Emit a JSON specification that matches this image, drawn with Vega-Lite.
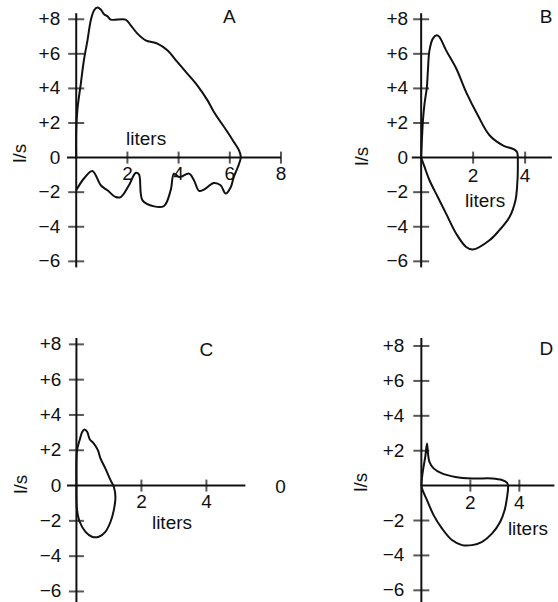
{
"$schema": "https://vega.github.io/schema/vega-lite/v6.json",
"background": "white",
"autosize": {"type": "pad"},
"padding": {"left": 11, "top": 3.2, "right": 0, "bottom": 0},
"config": {"view": {"stroke": null}, "axis": {"disable": true}, "text": {"font": "Liberation Sans", "fontSize": 19, "color": "#111"}},
"datasets": {
"curves": [
{"panel":"A","i":1,"liters":0,"flow":0},{"panel":"A","i":2,"liters":0,"flow":1.58},{"panel":"A","i":3,"liters":0.05,"flow":2.83},{"panel":"A","i":4,"liters":0.18,"flow":4.28},{"panel":"A","i":5,"liters":0.30,"flow":5.63},{"panel":"A","i":6,"liters":0.44,"flow":6.78},{"panel":"A","i":7,"liters":0.57,"flow":7.94},{"panel":"A","i":8,"liters":0.70,"flow":8.52},{"panel":"A","i":9,"liters":0.83,"flow":8.68},{"panel":"A","i":10,"liters":0.96,"flow":8.56},{"panel":"A","i":11,"liters":1.09,"flow":8.29},{"panel":"A","i":12,"liters":1.22,"flow":8.17},{"panel":"A","i":13,"liters":1.35,"flow":7.98},{"panel":"A","i":14,"liters":1.93,"flow":7.98},{"panel":"A","i":15,"liters":2.13,"flow":7.65},{"panel":"A","i":16,"liters":2.39,"flow":7.17},{"panel":"A","i":17,"liters":2.71,"flow":6.78},{"panel":"A","i":18,"liters":3.17,"flow":6.59},{"panel":"A","i":19,"liters":3.56,"flow":6.21},{"panel":"A","i":20,"liters":3.95,"flow":5.53},{"panel":"A","i":21,"liters":4.34,"flow":4.86},{"panel":"A","i":22,"liters":4.73,"flow":4.18},{"panel":"A","i":23,"liters":5.13,"flow":3.31},{"panel":"A","i":24,"liters":5.38,"flow":2.64},{"panel":"A","i":25,"liters":5.91,"flow":1.48},{"panel":"A","i":26,"liters":6.16,"flow":0.90},{"panel":"A","i":27,"liters":6.36,"flow":0.42},{"panel":"A","i":28,"liters":6.43,"flow":0.03},{"panel":"A","i":29,"liters":6.31,"flow":-0.56},{"panel":"A","i":30,"liters":6.15,"flow":-1.14},{"panel":"A","i":31,"liters":6.04,"flow":-1.70},{"panel":"A","i":32,"liters":5.84,"flow":-2.08},{"panel":"A","i":33,"liters":5.64,"flow":-1.60},{"panel":"A","i":34,"liters":5.38,"flow":-1.47},{"panel":"A","i":35,"liters":4.99,"flow":-1.85},{"panel":"A","i":36,"liters":4.80,"flow":-1.93},{"panel":"A","i":37,"liters":4.60,"flow":-1.31},{"panel":"A","i":38,"liters":4.41,"flow":-0.93},{"panel":"A","i":39,"liters":4.02,"flow":-1.12},{"panel":"A","i":40,"liters":3.82,"flow":-0.93},{"panel":"A","i":41,"liters":3.69,"flow":-1.89},{"panel":"A","i":42,"liters":3.43,"flow":-2.80},{"panel":"A","i":43,"liters":3.04,"flow":-2.82},{"panel":"A","i":44,"liters":2.59,"flow":-2.47},{"panel":"A","i":45,"liters":2.45,"flow":-0.97},{"panel":"A","i":46,"liters":2.32,"flow":-0.89},{"panel":"A","i":47,"liters":2.06,"flow":-1.60},{"panel":"A","i":48,"liters":1.74,"flow":-2.28},{"panel":"A","i":49,"liters":1.54,"flow":-2.28},{"panel":"A","i":50,"liters":1.22,"flow":-1.89},{"panel":"A","i":51,"liters":0.96,"flow":-1.60},{"panel":"A","i":52,"liters":0.63,"flow":-0.77},{"panel":"A","i":53,"liters":0.30,"flow":-1.21},{"panel":"A","i":54,"liters":0,"flow":-1.89},
{"panel":"B","i":1,"liters":0,"flow":0},{"panel":"B","i":2,"liters":0.07,"flow":2.16},{"panel":"B","i":3,"liters":0.13,"flow":3.12},{"panel":"B","i":4,"liters":0.22,"flow":4.08},{"panel":"B","i":5,"liters":0.26,"flow":5.05},{"panel":"B","i":6,"liters":0.32,"flow":6.20},{"panel":"B","i":7,"liters":0.45,"flow":6.88},{"panel":"B","i":8,"liters":0.60,"flow":7.07},{"panel":"B","i":9,"liters":0.70,"flow":6.98},{"panel":"B","i":10,"liters":0.96,"flow":6.20},{"panel":"B","i":11,"liters":1.35,"flow":5.15},{"panel":"B","i":12,"liters":1.73,"flow":3.79},{"panel":"B","i":13,"liters":2.18,"flow":2.45},{"panel":"B","i":14,"liters":2.63,"flow":1.29},{"panel":"B","i":15,"liters":3.14,"flow":0.71},{"panel":"B","i":16,"liters":3.59,"flow":0.46},{"panel":"B","i":17,"liters":3.69,"flow":0.32},{"panel":"B","i":18,"liters":3.72,"flow":-0.35},{"panel":"B","i":19,"liters":3.69,"flow":-1.70},{"panel":"B","i":20,"liters":3.63,"flow":-2.47},{"panel":"B","i":21,"liters":3.40,"flow":-3.44},{"panel":"B","i":22,"liters":3.01,"flow":-4.20},{"panel":"B","i":23,"liters":2.63,"flow":-4.78},{"panel":"B","i":24,"liters":1.99,"flow":-5.32},{"panel":"B","i":25,"liters":1.73,"flow":-5.17},{"panel":"B","i":26,"liters":1.35,"flow":-4.40},{"panel":"B","i":27,"liters":0.96,"flow":-3.24},{"panel":"B","i":28,"liters":0.64,"flow":-2.28},{"panel":"B","i":29,"liters":0.32,"flow":-1.31},{"panel":"B","i":30,"liters":0.13,"flow":-0.54},{"panel":"B","i":31,"liters":0,"flow":0},
{"panel":"C","i":1,"liters":0,"flow":0},{"panel":"C","i":2,"liters":0.02,"flow":2.01},{"panel":"C","i":3,"liters":0.10,"flow":2.58},{"panel":"C","i":4,"liters":0.18,"flow":3.05},{"panel":"C","i":5,"liters":0.25,"flow":3.18},{"panel":"C","i":6,"liters":0.33,"flow":3.05},{"panel":"C","i":7,"liters":0.41,"flow":2.62},{"panel":"C","i":8,"liters":0.53,"flow":2.39},{"panel":"C","i":9,"liters":0.66,"flow":2.01},{"panel":"C","i":10,"liters":0.74,"flow":1.54},{"panel":"C","i":11,"liters":0.89,"flow":0.97},{"panel":"C","i":12,"liters":1.05,"flow":0.31},{"panel":"C","i":13,"liters":1.15,"flow":-0.07},{"panel":"C","i":14,"liters":1.20,"flow":-0.63},{"panel":"C","i":15,"liters":1.15,"flow":-1.39},{"panel":"C","i":16,"liters":1.05,"flow":-2.05},{"panel":"C","i":17,"liters":0.89,"flow":-2.62},{"panel":"C","i":18,"liters":0.69,"flow":-2.90},{"panel":"C","i":19,"liters":0.48,"flow":-2.90},{"panel":"C","i":20,"liters":0.28,"flow":-2.62},{"panel":"C","i":21,"liters":0.10,"flow":-2.05},{"panel":"C","i":22,"liters":0.02,"flow":-1.39},{"panel":"C","i":23,"liters":0,"flow":-0.63},{"panel":"C","i":24,"liters":0,"flow":0},
{"panel":"D","i":1,"liters":0,"flow":0},{"panel":"D","i":2,"liters":0.03,"flow":0.50},{"panel":"D","i":3,"liters":0.09,"flow":1.08},{"panel":"D","i":4,"liters":0.16,"flow":1.65},{"panel":"D","i":5,"liters":0.23,"flow":2.42},{"panel":"D","i":6,"liters":0.27,"flow":1.85},{"panel":"D","i":7,"liters":0.33,"flow":1.36},{"panel":"D","i":8,"liters":0.50,"flow":0.99},{"panel":"D","i":9,"liters":0.84,"flow":0.70},{"panel":"D","i":10,"liters":1.39,"flow":0.50},{"panel":"D","i":11,"liters":2.07,"flow":0.41},{"panel":"D","i":12,"liters":2.89,"flow":0.41},{"panel":"D","i":13,"liters":3.29,"flow":0.32},{"panel":"D","i":14,"liters":3.50,"flow":0.16},{"panel":"D","i":15,"liters":3.54,"flow":-0.07},{"panel":"D","i":16,"liters":3.50,"flow":-0.64},{"panel":"D","i":17,"liters":3.40,"flow":-1.40},{"panel":"D","i":18,"liters":3.22,"flow":-2.07},{"panel":"D","i":19,"liters":2.89,"flow":-2.74},{"panel":"D","i":20,"liters":2.48,"flow":-3.22},{"panel":"D","i":21,"liters":2.07,"flow":-3.41},{"panel":"D","i":22,"liters":1.66,"flow":-3.41},{"panel":"D","i":23,"liters":1.25,"flow":-3.12},{"panel":"D","i":24,"liters":0.84,"flow":-2.45},{"panel":"D","i":25,"liters":0.50,"flow":-1.69},{"panel":"D","i":26,"liters":0.23,"flow":-0.83},{"panel":"D","i":27,"liters":0.05,"flow":-0.26},{"panel":"D","i":28,"liters":0,"flow":0}
],
"xlabels": [
{"panel":"A","liters":2,"label":"2"},{"panel":"A","liters":4,"label":"4"},{"panel":"A","liters":6,"label":"6"},{"panel":"A","liters":8,"label":"8"},
{"panel":"B","liters":2,"label":"2"},{"panel":"B","liters":4,"label":"4"},
{"panel":"C","liters":2,"label":"2"},{"panel":"C","liters":4,"label":"4"},
{"panel":"D","liters":2,"label":"2"},{"panel":"D","liters":4,"label":"4"}
],
"ylabels": [
{"panel":"A","flow":8,"label":"+8"},{"panel":"A","flow":6,"label":"+6"},{"panel":"A","flow":4,"label":"+4"},{"panel":"A","flow":2,"label":"+2"},{"panel":"A","flow":0,"label":"0"},{"panel":"A","flow":-2,"label":"−2"},{"panel":"A","flow":-4,"label":"−4"},{"panel":"A","flow":-6,"label":"−6"},
{"panel":"B","flow":8,"label":"+8"},{"panel":"B","flow":6,"label":"+6"},{"panel":"B","flow":4,"label":"+4"},{"panel":"B","flow":2,"label":"+2"},{"panel":"B","flow":0,"label":"0"},{"panel":"B","flow":-2,"label":"−2"},{"panel":"B","flow":-4,"label":"−4"},{"panel":"B","flow":-6,"label":"−6"},
{"panel":"C","flow":8,"label":"+8"},{"panel":"C","flow":6,"label":"+6"},{"panel":"C","flow":4,"label":"+4"},{"panel":"C","flow":2,"label":"+2"},{"panel":"C","flow":0,"label":"0"},{"panel":"C","flow":-2,"label":"−2"},{"panel":"C","flow":-4,"label":"−4"},{"panel":"C","flow":-6,"label":"−6"},
{"panel":"D","flow":8,"label":"+8"},{"panel":"D","flow":6,"label":"+6"},{"panel":"D","flow":4,"label":"+4"},{"panel":"D","flow":2,"label":"+2"},{"panel":"D","flow":-2,"label":"−2"},{"panel":"D","flow":-4,"label":"−4"},{"panel":"D","flow":-6,"label":"−6"}
],
"notes": [
{"panel":"A","kind":"text","liters":2.73,"flow":1.06,"text":"liters"},{"panel":"A","kind":"text","liters":5.98,"flow":8.12,"text":"A"},{"panel":"A","kind":"ytitle","liters":-2.19,"flow":0.25,"text":"l/s"},
{"panel":"B","kind":"text","liters":2.46,"flow":-2.53,"text":"liters"},{"panel":"B","kind":"text","liters":4.81,"flow":8.11,"text":"B"},{"panel":"B","kind":"ytitle","liters":-2.27,"flow":0.08,"text":"l/s"},
{"panel":"C","kind":"text","liters":2.94,"flow":-2.12,"text":"liters"},{"panel":"C","kind":"text","liters":4.0,"flow":7.68,"text":"C"},{"panel":"C","kind":"text","liters":6.28,"flow":-0.08,"text":"0"},{"panel":"C","kind":"ytitle","liters":-1.72,"flow":0.08,"text":"l/s"},
{"panel":"D","kind":"text","liters":4.35,"flow":-2.49,"text":"liters"},{"panel":"D","kind":"text","liters":5.1,"flow":7.82,"text":"D"},{"panel":"D","kind":"ytitle","liters":-2.45,"flow":0.2,"text":"l/s"}
]
},
"columns": 2,
"spacing": {"row": 69.8, "column": 130.8},
"bounds": "flush",
"concat": [
{"width": 214, "height": 254.2, "layer": [
{"data":{"values":[{"axis":"liters"}]},"mark":{"type":"rule","strokeWidth":2,"color":"#111"},"encoding":{"y":{"datum":0,"type":"quantitative","scale":{"domain":[-6.35,8.35],"nice":false,"zero":false}}}},
{"data":{"values":[{"axis":"l/s"}]},"mark":{"type":"rule","strokeWidth":2,"color":"#111"},"encoding":{"x":{"datum":0,"type":"quantitative","scale":{"domain":[-0.36,8.0],"nice":false,"zero":false}}}},
{"data":{"name":"xlabels"},"transform":[{"filter":"datum.panel === 'A'"}],"mark":{"type":"tick","orient":"vertical","size":12,"thickness":2,"color":"#111"},"encoding":{"x":{"field":"liters","type":"quantitative","scale":{"domain":[-0.36,8.0],"nice":false,"zero":false}},"y":{"datum":0,"type":"quantitative","scale":{"domain":[-6.35,8.35],"nice":false,"zero":false}}}},
{"data":{"name":"xlabels"},"transform":[{"filter":"datum.panel === 'A'"}],"mark":{"type":"text","align":"center","baseline":"top","dy":7},"encoding":{"x":{"field":"liters","type":"quantitative","scale":{"domain":[-0.36,8.0],"nice":false,"zero":false}},"y":{"datum":0,"type":"quantitative","scale":{"domain":[-6.35,8.35],"nice":false,"zero":false}},"text":{"field":"label"}}},
{"data":{"name":"ylabels"},"transform":[{"filter":"datum.panel === 'A' && datum.flow !== 0"}],"mark":{"type":"tick","orient":"horizontal","size":16,"thickness":2,"color":"#111"},"encoding":{"x":{"datum":0,"type":"quantitative","scale":{"domain":[-0.36,8.0],"nice":false,"zero":false}},"y":{"field":"flow","type":"quantitative","scale":{"domain":[-6.35,8.35],"nice":false,"zero":false}}}},
{"data":{"name":"ylabels"},"transform":[{"filter":"datum.panel === 'A'"}],"mark":{"type":"text","align":"right","baseline":"middle","dx":-16},"encoding":{"x":{"datum":0,"type":"quantitative","scale":{"domain":[-0.36,8.0],"nice":false,"zero":false}},"y":{"field":"flow","type":"quantitative","scale":{"domain":[-6.35,8.35],"nice":false,"zero":false}},"text":{"field":"label"}}},
{"data":{"name":"notes"},"transform":[{"filter":"datum.panel === 'A' && datum.kind === 'text'"}],"mark":{"type":"text","align":"center","baseline":"middle"},"encoding":{"x":{"field":"liters","type":"quantitative","scale":{"domain":[-0.36,8.0],"nice":false,"zero":false}},"y":{"field":"flow","type":"quantitative","scale":{"domain":[-6.35,8.35],"nice":false,"zero":false}},"text":{"field":"text"}}},
{"data":{"name":"notes"},"transform":[{"filter":"datum.panel === 'A' && datum.kind === 'ytitle'"}],"mark":{"type":"text","align":"center","baseline":"middle","angle":270},"encoding":{"x":{"field":"liters","type":"quantitative","scale":{"domain":[-0.36,8.0],"nice":false,"zero":false}},"y":{"field":"flow","type":"quantitative","scale":{"domain":[-6.35,8.35],"nice":false,"zero":false}},"text":{"field":"text"}}},
{"data":{"name":"curves"},"transform":[{"filter":"datum.panel === 'A'"}],"mark":{"type":"line","interpolate":"catmull-rom","strokeWidth":2,"color":"#111"},"encoding":{"x":{"field":"liters","type":"quantitative","scale":{"domain":[-0.36,8.0],"nice":false,"zero":false}},"y":{"field":"flow","type":"quantitative","scale":{"domain":[-6.35,8.35],"nice":false,"zero":false}},"order":{"field":"i","type":"quantitative"}}}
]},
{"width": 140.1, "height": 254.2, "layer": [
{"data":{"values":[{"axis":"liters"}]},"mark":{"type":"rule","strokeWidth":2,"color":"#111"},"encoding":{"y":{"datum":0,"type":"quantitative","scale":{"domain":[-6.35,8.35],"nice":false,"zero":false}}}},
{"data":{"values":[{"axis":"l/s"}]},"mark":{"type":"rule","strokeWidth":2,"color":"#111"},"encoding":{"x":{"datum":0,"type":"quantitative","scale":{"domain":[-0.36,5.03],"nice":false,"zero":false}}}},
{"data":{"name":"xlabels"},"transform":[{"filter":"datum.panel === 'B'"}],"mark":{"type":"tick","orient":"vertical","size":12,"thickness":2,"color":"#111"},"encoding":{"x":{"field":"liters","type":"quantitative","scale":{"domain":[-0.36,5.03],"nice":false,"zero":false}},"y":{"datum":0,"type":"quantitative","scale":{"domain":[-6.35,8.35],"nice":false,"zero":false}}}},
{"data":{"name":"xlabels"},"transform":[{"filter":"datum.panel === 'B'"}],"mark":{"type":"text","align":"center","baseline":"top","dy":9},"encoding":{"x":{"field":"liters","type":"quantitative","scale":{"domain":[-0.36,5.03],"nice":false,"zero":false}},"y":{"datum":0,"type":"quantitative","scale":{"domain":[-6.35,8.35],"nice":false,"zero":false}},"text":{"field":"label"}}},
{"data":{"name":"ylabels"},"transform":[{"filter":"datum.panel === 'B' && datum.flow !== 0"}],"mark":{"type":"tick","orient":"horizontal","size":16,"thickness":2,"color":"#111"},"encoding":{"x":{"datum":0,"type":"quantitative","scale":{"domain":[-0.36,5.03],"nice":false,"zero":false}},"y":{"field":"flow","type":"quantitative","scale":{"domain":[-6.35,8.35],"nice":false,"zero":false}}}},
{"data":{"name":"ylabels"},"transform":[{"filter":"datum.panel === 'B'"}],"mark":{"type":"text","align":"right","baseline":"middle","dx":-13},"encoding":{"x":{"datum":0,"type":"quantitative","scale":{"domain":[-0.36,5.03],"nice":false,"zero":false}},"y":{"field":"flow","type":"quantitative","scale":{"domain":[-6.35,8.35],"nice":false,"zero":false}},"text":{"field":"label"}}},
{"data":{"name":"notes"},"transform":[{"filter":"datum.panel === 'B' && datum.kind === 'text'"}],"mark":{"type":"text","align":"center","baseline":"middle"},"encoding":{"x":{"field":"liters","type":"quantitative","scale":{"domain":[-0.36,5.03],"nice":false,"zero":false}},"y":{"field":"flow","type":"quantitative","scale":{"domain":[-6.35,8.35],"nice":false,"zero":false}},"text":{"field":"text"}}},
{"data":{"name":"notes"},"transform":[{"filter":"datum.panel === 'B' && datum.kind === 'ytitle'"}],"mark":{"type":"text","align":"center","baseline":"middle","angle":270},"encoding":{"x":{"field":"liters","type":"quantitative","scale":{"domain":[-0.36,5.03],"nice":false,"zero":false}},"y":{"field":"flow","type":"quantitative","scale":{"domain":[-6.35,8.35],"nice":false,"zero":false}},"text":{"field":"text"}}},
{"data":{"name":"curves"},"transform":[{"filter":"datum.panel === 'B'"}],"mark":{"type":"line","interpolate":"catmull-rom","strokeWidth":2,"color":"#111"},"encoding":{"x":{"field":"liters","type":"quantitative","scale":{"domain":[-0.36,5.03],"nice":false,"zero":false}},"y":{"field":"flow","type":"quantitative","scale":{"domain":[-6.35,8.35],"nice":false,"zero":false}},"order":{"field":"i","type":"quantitative"}}}
]},
{"width": 178.4, "height": 267.6, "layer": [
{"data":{"values":[{"axis":"liters"}]},"mark":{"type":"rule","strokeWidth":2,"color":"#111"},"encoding":{"y":{"datum":0,"type":"quantitative","scale":{"domain":[-6.8,8.36],"nice":false,"zero":false}}}},
{"data":{"values":[{"axis":"l/s"}]},"mark":{"type":"rule","strokeWidth":2,"color":"#111"},"encoding":{"x":{"datum":0,"type":"quantitative","scale":{"domain":[-0.29,5.2],"nice":false,"zero":false}}}},
{"data":{"name":"xlabels"},"transform":[{"filter":"datum.panel === 'C'"}],"mark":{"type":"tick","orient":"vertical","size":12,"thickness":2,"color":"#111"},"encoding":{"x":{"field":"liters","type":"quantitative","scale":{"domain":[-0.29,5.2],"nice":false,"zero":false}},"y":{"datum":0,"type":"quantitative","scale":{"domain":[-6.8,8.36],"nice":false,"zero":false}}}},
{"data":{"name":"xlabels"},"transform":[{"filter":"datum.panel === 'C'"}],"mark":{"type":"text","align":"center","baseline":"top","dy":7},"encoding":{"x":{"field":"liters","type":"quantitative","scale":{"domain":[-0.29,5.2],"nice":false,"zero":false}},"y":{"datum":0,"type":"quantitative","scale":{"domain":[-6.8,8.36],"nice":false,"zero":false}},"text":{"field":"label"}}},
{"data":{"name":"ylabels"},"transform":[{"filter":"datum.panel === 'C' && datum.flow !== 0"}],"mark":{"type":"tick","orient":"horizontal","size":15,"thickness":2,"color":"#111"},"encoding":{"x":{"datum":0,"type":"quantitative","scale":{"domain":[-0.29,5.2],"nice":false,"zero":false}},"y":{"field":"flow","type":"quantitative","scale":{"domain":[-6.8,8.36],"nice":false,"zero":false}}}},
{"data":{"name":"ylabels"},"transform":[{"filter":"datum.panel === 'C'"}],"mark":{"type":"text","align":"right","baseline":"middle","dx":-15},"encoding":{"x":{"datum":0,"type":"quantitative","scale":{"domain":[-0.29,5.2],"nice":false,"zero":false}},"y":{"field":"flow","type":"quantitative","scale":{"domain":[-6.8,8.36],"nice":false,"zero":false}},"text":{"field":"label"}}},
{"data":{"name":"notes"},"transform":[{"filter":"datum.panel === 'C' && datum.kind === 'text'"}],"mark":{"type":"text","align":"center","baseline":"middle"},"encoding":{"x":{"field":"liters","type":"quantitative","scale":{"domain":[-0.29,5.2],"nice":false,"zero":false}},"y":{"field":"flow","type":"quantitative","scale":{"domain":[-6.8,8.36],"nice":false,"zero":false}},"text":{"field":"text"}}},
{"data":{"name":"notes"},"transform":[{"filter":"datum.panel === 'C' && datum.kind === 'ytitle'"}],"mark":{"type":"text","align":"center","baseline":"middle","angle":270},"encoding":{"x":{"field":"liters","type":"quantitative","scale":{"domain":[-0.29,5.2],"nice":false,"zero":false}},"y":{"field":"flow","type":"quantitative","scale":{"domain":[-6.8,8.36],"nice":false,"zero":false}},"text":{"field":"text"}}},
{"data":{"name":"curves"},"transform":[{"filter":"datum.panel === 'C'"}],"mark":{"type":"line","interpolate":"catmull-rom","strokeWidth":2,"color":"#111"},"encoding":{"x":{"field":"liters","type":"quantitative","scale":{"domain":[-0.29,5.2],"nice":false,"zero":false}},"y":{"field":"flow","type":"quantitative","scale":{"domain":[-6.8,8.36],"nice":false,"zero":false}},"order":{"field":"i","type":"quantitative"}}}
]},
{"width": 142.6, "height": 266.3, "layer": [
{"data":{"values":[{"axis":"liters"}]},"mark":{"type":"rule","strokeWidth":2,"color":"#111"},"encoding":{"x":{"datum":0,"type":"quantitative","scale":{"domain":[-0.39,5.43],"nice":false,"zero":false}},"x2":{"datum":5.43},"y":{"datum":0,"type":"quantitative","scale":{"domain":[-6.8,8.46],"nice":false,"zero":false}}}},
{"data":{"values":[{"axis":"l/s"}]},"mark":{"type":"rule","strokeWidth":2,"color":"#111"},"encoding":{"x":{"datum":0,"type":"quantitative","scale":{"domain":[-0.39,5.43],"nice":false,"zero":false}}}},
{"data":{"name":"xlabels"},"transform":[{"filter":"datum.panel === 'D'"}],"mark":{"type":"tick","orient":"vertical","size":12,"thickness":2,"color":"#111"},"encoding":{"x":{"field":"liters","type":"quantitative","scale":{"domain":[-0.39,5.43],"nice":false,"zero":false}},"y":{"datum":0,"type":"quantitative","scale":{"domain":[-6.8,8.46],"nice":false,"zero":false}}}},
{"data":{"name":"xlabels"},"transform":[{"filter":"datum.panel === 'D'"}],"mark":{"type":"text","align":"center","baseline":"top","dy":8},"encoding":{"x":{"field":"liters","type":"quantitative","scale":{"domain":[-0.39,5.43],"nice":false,"zero":false}},"y":{"datum":0,"type":"quantitative","scale":{"domain":[-6.8,8.46],"nice":false,"zero":false}},"text":{"field":"label"}}},
{"data":{"name":"ylabels"},"transform":[{"filter":"datum.panel === 'D' && datum.flow !== 0"}],"mark":{"type":"tick","orient":"horizontal","size":16,"thickness":2,"color":"#111"},"encoding":{"x":{"datum":0,"type":"quantitative","scale":{"domain":[-0.39,5.43],"nice":false,"zero":false}},"y":{"field":"flow","type":"quantitative","scale":{"domain":[-6.8,8.46],"nice":false,"zero":false}}}},
{"data":{"name":"ylabels"},"transform":[{"filter":"datum.panel === 'D'"}],"mark":{"type":"text","align":"right","baseline":"middle","dx":-17},"encoding":{"x":{"datum":0,"type":"quantitative","scale":{"domain":[-0.39,5.43],"nice":false,"zero":false}},"y":{"field":"flow","type":"quantitative","scale":{"domain":[-6.8,8.46],"nice":false,"zero":false}},"text":{"field":"label"}}},
{"data":{"name":"notes"},"transform":[{"filter":"datum.panel === 'D' && datum.kind === 'text'"}],"mark":{"type":"text","align":"center","baseline":"middle"},"encoding":{"x":{"field":"liters","type":"quantitative","scale":{"domain":[-0.39,5.43],"nice":false,"zero":false}},"y":{"field":"flow","type":"quantitative","scale":{"domain":[-6.8,8.46],"nice":false,"zero":false}},"text":{"field":"text"}}},
{"data":{"name":"notes"},"transform":[{"filter":"datum.panel === 'D' && datum.kind === 'ytitle'"}],"mark":{"type":"text","align":"center","baseline":"middle","angle":270},"encoding":{"x":{"field":"liters","type":"quantitative","scale":{"domain":[-0.39,5.43],"nice":false,"zero":false}},"y":{"field":"flow","type":"quantitative","scale":{"domain":[-6.8,8.46],"nice":false,"zero":false}},"text":{"field":"text"}}},
{"data":{"name":"curves"},"transform":[{"filter":"datum.panel === 'D'"}],"mark":{"type":"line","interpolate":"catmull-rom","strokeWidth":2,"color":"#111"},"encoding":{"x":{"field":"liters","type":"quantitative","scale":{"domain":[-0.39,5.43],"nice":false,"zero":false}},"y":{"field":"flow","type":"quantitative","scale":{"domain":[-6.8,8.46],"nice":false,"zero":false}},"order":{"field":"i","type":"quantitative"}}}
]}
]
}
